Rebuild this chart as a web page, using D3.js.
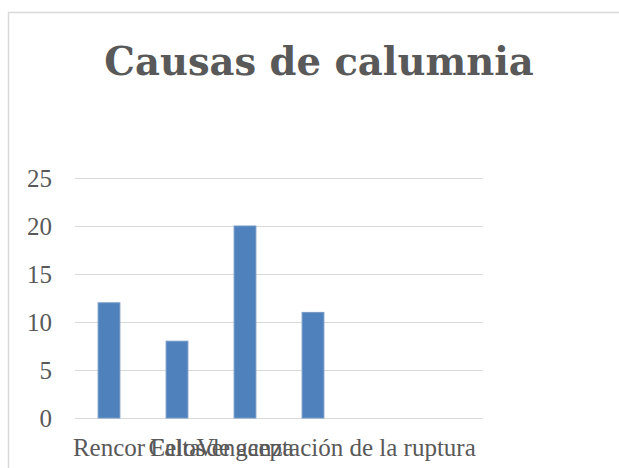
<!DOCTYPE html>
<html>
<head>
<meta charset="utf-8">
<script src="https://cdn.jsdelivr.net/npm/d3@7"></script>
<style>
  body { margin: 0; background: #fff; }
</style>
</head>
<body>
<div id="chart"></div>
<script>
// chart data
var categories = ["Rencor", "Celos", "Venganza", "Falta de aceptación de la ruptura", "", " "];
var values = [12, 8, 20, 11, null, null];
var yTicks = [0, 5, 10, 15, 20, 25];
var title = "Causas de calumnia";

var W = 619, H = 468;
var margin = {top: 178, right: 136, bottom: 50, left: 75},
    width = W - margin.left - margin.right,
    height = H - margin.top - margin.bottom;

var labelFont = "'Liberation Serif', serif";

var svg = d3.select("#chart").append("svg")
    .attr("width", W)
    .attr("height", H);

// chart area border (runs off the right and bottom edge)
svg.append("rect")
    .attr("x", 8.5).attr("y", 12.5)
    .attr("width", W + 20).attr("height", H + 20)
    .attr("fill", "#fff")
    .attr("stroke", "#d9d9d9")
    .attr("stroke-width", 1.5);

svg.append("text")
    .attr("x", 319)
    .attr("y", 75)
    .attr("text-anchor", "middle")
    .style("font-family", "'DejaVu Serif', serif")
    .style("font-weight", "bold")
    .style("font-size", "38.5px")
    .attr("fill", "#595959")
    .text(title);

var g = svg.append("g")
    .attr("transform", "translate(" + margin.left + "," + margin.top + ")");

// one slot per category, bar centred in its slot
var x = d3.scaleBand()
    .domain(categories)
    .range([0, width])
    .paddingInner(0.68)
    .paddingOuter(0.34);

var y = d3.scaleLinear()
    .domain([0, 25])
    .range([height, 0]);

// gridlines
g.append("g")
    .selectAll("line")
    .data(yTicks)
  .enter().append("line")
    .attr("x1", 0)
    .attr("x2", width)
    .attr("y1", function(d) { return Math.round(y(d)) + 0.5; })
    .attr("y2", function(d) { return Math.round(y(d)) + 0.5; })
    .attr("stroke", "#d9d9d9")
    .attr("stroke-width", 1.2);

// y labels
var yAxis = g.append("g")
    .call(d3.axisLeft(y).tickValues(yTicks).tickSize(0).tickPadding(23));
yAxis.select(".domain").remove();
yAxis.selectAll("text")
    .style("font-family", labelFont)
    .style("font-size", "25px")
    .attr("fill", "#595959");

// bars
g.selectAll(".bar")
    .data(categories.map(function(c, i) { return {cat: c, v: values[i]}; })
            .filter(function(d) { return d.v != null; }))
  .enter().append("rect")
    .attr("class", "bar")
    .attr("x", function(d) { return x(d.cat); })
    .attr("width", x.bandwidth())
    .attr("y", function(d) { return y(d.v); })
    .attr("height", function(d) { return height - y(d.v); })
    .attr("fill", "#4f81bd")
    .attr("stroke", "#7399c6")
    .attr("stroke-width", 1);

// x labels, centered on each band (they overlap, as in the original)
var xAxis = g.append("g")
    .attr("transform", "translate(0," + height + ")")
    .call(d3.axisBottom(x).tickSize(0).tickPadding(0));
xAxis.select(".domain").remove();
xAxis.selectAll("text")
    .attr("dy", null)
    .attr("y", 38)
    .style("font-family", labelFont)
    .style("font-size", "25px")
    .attr("fill", "#595959");
</script>
</body>
</html>
